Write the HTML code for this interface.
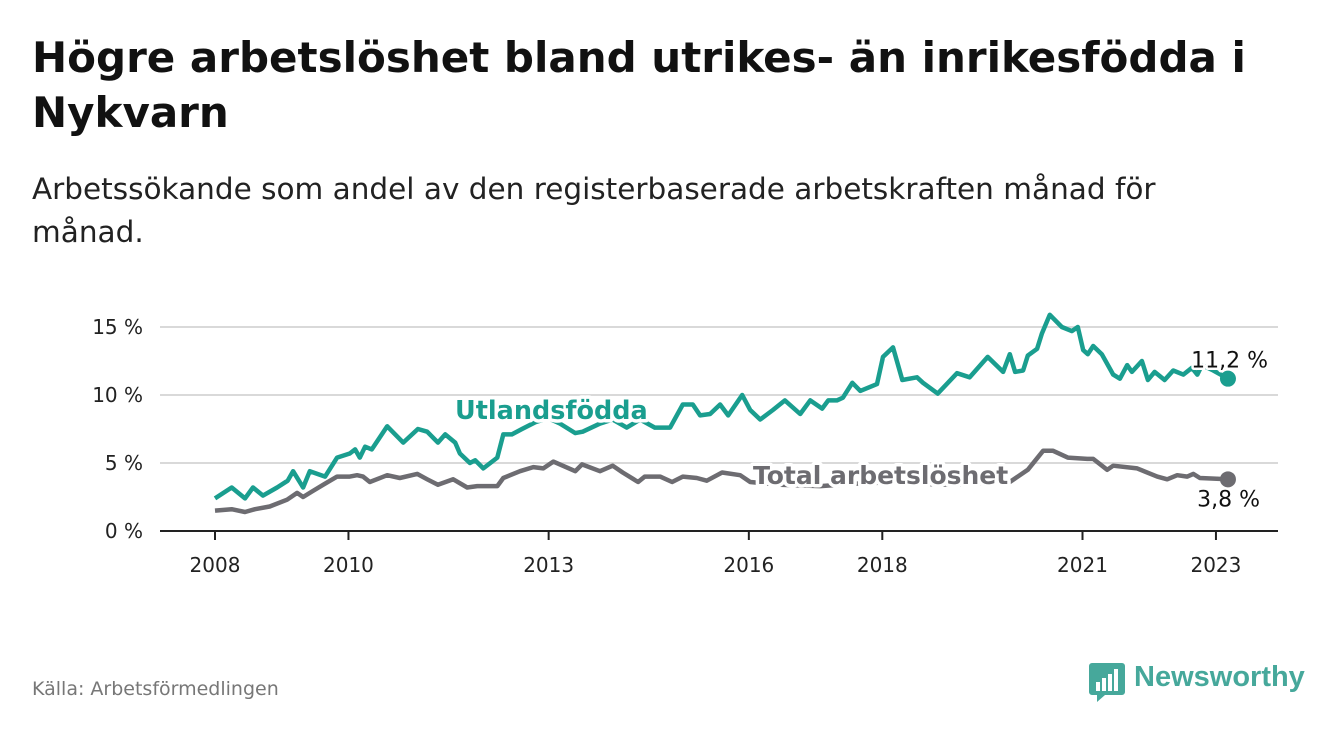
<!DOCTYPE html>
<html><head><meta charset="utf-8"><style>
html,body{margin:0;padding:0;background:#fff;width:1340px;height:734px;overflow:hidden;font-family:"DejaVu Sans","Liberation Sans",sans-serif;}
.t{position:absolute;left:32px;top:30px;font-size:42px;font-weight:bold;color:#111;line-height:55px;margin:0;width:1260px}
.s{position:absolute;left:32px;top:168px;font-size:29.5px;color:#222;line-height:43px;width:1200px}
.src{position:absolute;left:32px;top:678px;font-size:19px;color:#777}
</style></head><body>
<div class="t">Högre arbetslöshet bland utrikes- än inrikesfödda i Nykvarn</div>
<div class="s">Arbetssökande som andel av den registerbaserade arbetskraften månad för månad.</div>
<div class="src">Källa: Arbetsförmedlingen</div>
<div style="position:absolute;left:1089px;top:661px;height:42px;">
<svg width="36" height="42" style="position:absolute;left:0;top:0"><path d="M3 2h30a3 3 0 0 1 3 3v26a3 3 0 0 1-3 3H16l-8 7v-7H3a3 3 0 0 1-3-3V5a3 3 0 0 1 3-3z" fill="#46a89b"/><rect x="7" y="21" width="4" height="9" fill="#fff"/><rect x="13" y="17" width="4" height="13" fill="#fff"/><rect x="19" y="13" width="4" height="17" fill="#fff"/><rect x="25" y="8" width="4" height="22" fill="#fff"/></svg>
<span style="position:absolute;left:45px;top:0px;font-family:'Liberation Sans',sans-serif;font-size:29px;font-weight:bold;color:#46a89b;white-space:nowrap">Newsworthy</span></div>
<svg id="chart" width="1340" height="734" style="position:absolute;left:0;top:0"></svg>
<script>
const utlYears=[2008.00,2008.25,2008.45,2008.57,2008.72,2008.93,2009.09,2009.17,2009.32,2009.42,2009.65,2009.83,2010.02,2010.10,2010.17,2010.25,2010.35,2010.58,2010.82,2011.04,2011.18,2011.34,2011.45,2011.60,2011.67,2011.82,2011.90,2012.02,2012.23,2012.32,2012.45,2012.60,2012.80,2012.99,2013.17,2013.40,2013.51,2013.77,2013.96,2014.17,2014.37,2014.59,2014.82,2015.01,2015.16,2015.27,2015.42,2015.57,2015.69,2015.90,2016.02,2016.17,2016.36,2016.54,2016.77,2016.92,2017.10,2017.19,2017.32,2017.41,2017.55,2017.67,2017.92,2018.01,2018.16,2018.30,2018.52,2018.61,2018.83,2019.12,2019.31,2019.58,2019.81,2019.91,2019.99,2020.11,2020.18,2020.32,2020.39,2020.51,2020.69,2020.84,2020.93,2021.01,2021.08,2021.16,2021.29,2021.46,2021.56,2021.67,2021.74,2021.89,2021.98,2022.08,2022.23,2022.36,2022.51,2022.64,2022.72,2022.79,2022.96,2023.18];
const utlValues=[2.4,3.2,2.4,3.2,2.6,3.2,3.7,4.4,3.2,4.4,4.0,5.4,5.7,6.0,5.4,6.2,6.0,7.7,6.5,7.5,7.3,6.5,7.1,6.5,5.7,5.0,5.2,4.6,5.4,7.1,7.1,7.5,8.0,8.3,7.9,7.2,7.3,7.9,8.2,7.6,8.2,7.6,7.6,9.3,9.3,8.5,8.6,9.3,8.5,10.0,8.9,8.2,8.9,9.6,8.6,9.6,9.0,9.6,9.6,9.8,10.9,10.3,10.8,12.8,13.5,11.1,11.3,10.9,10.1,11.6,11.3,12.8,11.7,13.0,11.7,11.8,12.9,13.4,14.5,15.9,15.0,14.7,15.0,13.3,13.0,13.6,13.0,11.5,11.2,12.2,11.7,12.5,11.1,11.7,11.1,11.8,11.5,12.0,11.5,12.2,11.8,11.2];
const totYears=[2008.00,2008.25,2008.45,2008.60,2008.82,2009.08,2009.23,2009.32,2009.45,2009.62,2009.83,2010.02,2010.13,2010.22,2010.32,2010.58,2010.77,2011.03,2011.18,2011.34,2011.57,2011.78,2011.93,2012.23,2012.32,2012.57,2012.77,2012.92,2013.07,2013.40,2013.50,2013.77,2013.96,2014.11,2014.34,2014.44,2014.67,2014.85,2015.01,2015.22,2015.37,2015.60,2015.87,2016.02,2016.47,2017.07,2017.67,2018.27,2018.86,2019.46,2019.91,2020.18,2020.41,2020.56,2020.78,2021.07,2021.16,2021.37,2021.46,2021.82,2022.12,2022.27,2022.42,2022.57,2022.66,2022.76,2023.18];
const totValues=[1.5,1.6,1.4,1.6,1.8,2.3,2.8,2.5,2.9,3.4,4.0,4.0,4.1,4.0,3.6,4.1,3.9,4.2,3.8,3.4,3.8,3.2,3.3,3.3,3.9,4.4,4.7,4.6,5.1,4.4,4.9,4.4,4.8,4.3,3.6,4.0,4.0,3.6,4.0,3.9,3.7,4.3,4.1,3.6,3.4,3.3,3.5,3.6,3.4,3.5,3.6,4.5,5.9,5.9,5.4,5.3,5.3,4.5,4.8,4.6,4.0,3.8,4.1,4.0,4.2,3.9,3.8];
const yTicks=[0,5,10,15];
const yTickLabels=["0 %","5 %","10 %","15 %"];
const xTicks=[2008,2010,2013,2016,2018,2021,2023];
const xTickLabels=["2008","2010","2013","2016","2018","2021","2023"];
const utlName="Utlandsfödda", totName="Total arbetslöshet";

const NS="http://www.w3.org/2000/svg";
const svg=document.getElementById('chart');
const X=y=>215+(y-2008)*66.73;
const Y=v=>531-v*13.6;
function mk(tag,attrs,parent){const e=document.createElementNS(NS,tag);for(const k in attrs)e.setAttribute(k,attrs[k]);(parent||svg).appendChild(e);return e;}
yTicks.forEach((t,i)=>{
  if(t>0){const g=mk('line',{x1:160,x2:1278,y1:Y(t),y2:Y(t),stroke:'#d9d9d9','stroke-width':2});
  
  }
  const l=mk('text',{x:143,y:Y(t)+7,'text-anchor':'end','font-size':20,fill:'#222'});l.textContent=yTickLabels[i];
  
  
});
const ax=mk('line',{x1:160,x2:1278,y1:531,y2:531,stroke:'#222','stroke-width':2});


xTicks.forEach((t,i)=>{
  const tk=mk('line',{x1:X(t),x2:X(t),y1:531,y2:540,stroke:'#222','stroke-width':2});
  
  
  const l=mk('text',{x:X(t),y:572,'text-anchor':'middle','font-size':20,fill:'#222'});l.textContent=xTickLabels[i];
  
  
});
function line(ys,vs,color,name){
  const d=ys.map((y,i)=>(i?'L':'M')+X(y).toFixed(1)+' '+Y(vs[i]).toFixed(1)).join(' ');
  const p=mk('path',{d:d,fill:'none',stroke:color,'stroke-width':4.5,'stroke-linejoin':'round'});
  
  
  const n=ys.length-1;
  const c=mk('circle',{cx:X(ys[n]),cy:Y(vs[n]),r:8,fill:color});
  
  
}
line(totYears,totValues,'#6d6c71','total');
line(utlYears,utlValues,'#1a9e8f','utlandsfodda');
function label(x,y,txt,color,name,bold,size,anchor){
  const t=mk('text',{x:x,y:y,'font-size':size,'font-weight':bold?'bold':'normal',fill:color,stroke:'#fff','stroke-width':bold?7:5,'paint-order':'stroke','stroke-linejoin':'round','text-anchor':anchor||'start'});
  t.textContent=txt;
  
  
}
label(455,419,utlName,'#1a9e8f','utlandsfodda-label',true,25.5);
label(753,484,totName,'#6d6c71','total-label',true,25);
const nU=utlValues.length-1,nT=totValues.length-1;
label(1268,Y(utlValues[nU])-11,utlValues[nU].toFixed(1).replace('.',',')+' %','#111','utlandsfodda-end-value',false,22,'end');
label(1260,Y(totValues[nT])+27,totValues[nT].toFixed(1).replace('.',',')+' %','#111','total-end-value',false,22,'end');
</script>
</body></html>
